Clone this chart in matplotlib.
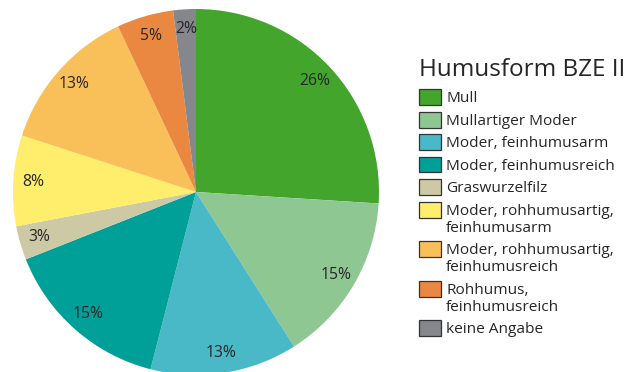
import matplotlib
matplotlib.use("Agg")
import matplotlib.pyplot as plt
from matplotlib.patches import Rectangle

plt.rcParams['font.family'] = ['Open Sans', 'DejaVu Sans']

categories = [
    "Mull",
    "Mullartiger Moder",
    "Moder, feinhumusarm",
    "Moder, feinhumusreich",
    "Graswurzelfilz",
    "Moder, rohhumusartig,\nfeinhumusarm",
    "Moder, rohhumusartig,\nfeinhumusreich",
    "Rohhumus,\nfeinhumusreich",
    "keine Angabe",
]
shares = [26, 15, 13, 15, 3, 8, 13, 5, 2]
colors = ["#44a52d", "#8fc793", "#4ab9c7", "#009f97", "#cdc9a4",
          "#ffee6c", "#f9c05a", "#ea8741", "#86878c"]
title = "Humusform BZE II"

W, H = 640, 372
fig = plt.figure(figsize=(W / 100, H / 100), dpi=100)
text_color = "#262626"

# pie, laid out in pixel units
cx, cy, r = 196, 192, 183
ax = fig.add_axes([(cx - r) / W, (H - cy - r) / H, 2 * r / W, 2 * r / H])
ax.pie(shares, colors=colors, startangle=90, counterclock=False,
       autopct=lambda p: f"{p:.0f}%", pctdistance=0.89,
       textprops=dict(fontsize=11.3, color=text_color),
       wedgeprops=dict(linewidth=0))
ax.set_xlim(-1, 1)
ax.set_ylim(-1, 1)
ax.set_aspect('equal')

# legend drawn in figure pixel coordinates (y measured from the top)
def fx(px):
    return px / W

def fy(py):
    return 1 - py / H

fig.text(fx(419), fy(76), title, fontsize=17.5, color=text_color,
         ha="left", va="baseline")

box_x, box_w, box_h = 419, 22, 16
text_x = 446
row_step, line_step = 22.5, 17
y = 97
for label, col in zip(categories, colors):
    fig.patches.append(Rectangle((fx(box_x), fy(y + box_h / 2)),
                                 box_w / W, box_h / H,
                                 facecolor=col, edgecolor="#333333",
                                 linewidth=0.9, transform=fig.transFigure,
                                 figure=fig))
    lines = label.split("\n")
    for i, line in enumerate(lines):
        fig.text(fx(text_x), fy(y + i * line_step + 5.3), line,
                 fontsize=11.1, color=text_color, ha="left", va="baseline")
    y += row_step + line_step * (len(lines) - 1)

fig.savefig("out.png", dpi=100)
